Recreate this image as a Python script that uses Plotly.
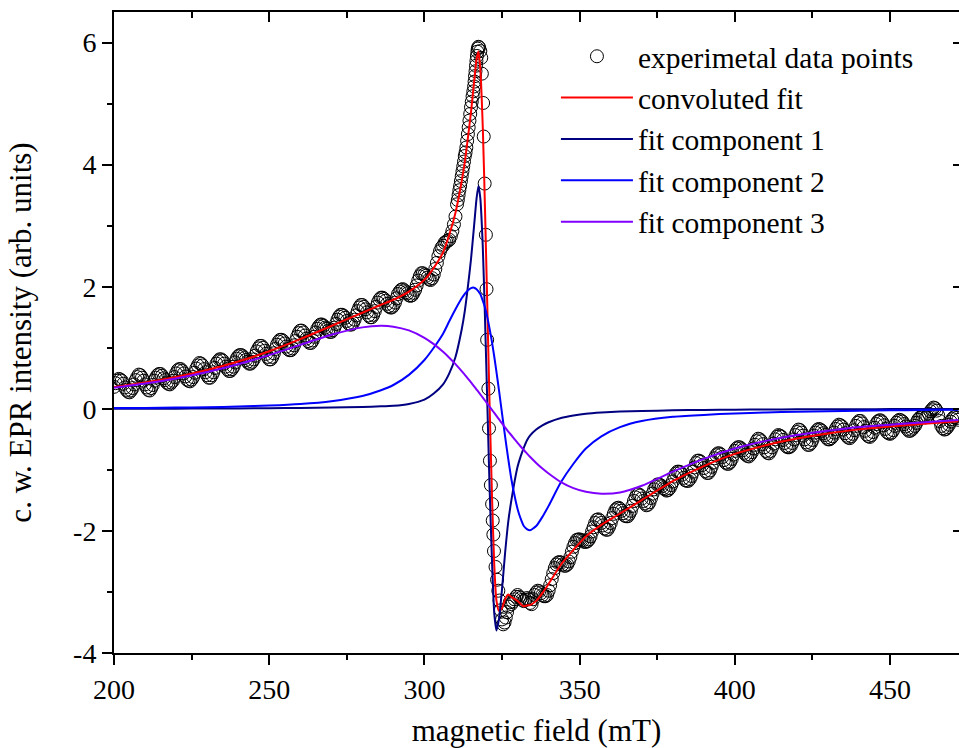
import plotly.graph_objects as go

# ---------------- data ----------------
# experimental data points, low-field tail (mT, intensity)
data_x_low = [
    200, 200.5, 201, 201.5, 202, 202.5, 203, 203.5, 204, 204.5, 205, 205.5, 206,
    206.5, 207, 207.5, 208, 208.5, 209, 209.5, 210, 210.5, 211, 211.5, 212, 212.5,
    213, 213.5, 214, 214.5, 215, 215.5, 216, 216.5, 217, 217.5, 218, 218.5, 219,
    219.5, 220, 220.5, 221, 221.5, 222, 222.5, 223, 223.5, 224, 224.5, 225, 225.5,
    226, 226.5, 227, 227.5, 228, 228.5, 229, 229.5, 230, 230.5, 231, 231.5, 232,
    232.5, 233, 233.5, 234, 234.5, 235, 235.5, 236, 236.5, 237, 237.5, 238, 238.5,
    239, 239.5, 240, 240.5, 241, 241.5, 242, 242.5, 243, 243.5, 244, 244.5, 245,
    245.5, 246, 246.5, 247, 247.5, 248, 248.5, 249, 249.5, 250, 250.5, 251, 251.5,
    252, 252.5, 253, 253.5, 254, 254.5, 255, 255.5, 256, 256.5, 257, 257.5, 258,
    258.5, 259, 259.5, 260, 260.5, 261, 261.5, 262, 262.5, 263, 263.5, 264, 264.5,
    265, 265.5, 266, 266.5, 267, 267.5, 268, 268.5, 269, 269.5, 270, 270.5, 271,
    271.5, 272, 272.5, 273, 273.5, 274, 274.5, 275, 275.5, 276, 276.5, 277, 277.5,
    278, 278.5, 279, 279.5, 280, 280.5, 281, 281.5, 282, 282.5, 283, 283.5, 284,
    284.5, 285, 285.5, 286, 286.5, 287, 287.5, 288, 288.5, 289, 289.5, 290, 290.5,
    291, 291.5, 292, 292.5, 293, 293.5, 294, 294.5, 295, 295.5, 296, 296.5, 297,
    297.5, 298, 298.5, 299, 299.5, 300, 300.5, 301, 301.5, 302, 302.5, 303, 303.5,
    304, 304.5, 305, 305.5, 306, 306.5, 307, 307.5, 308, 308.5, 309, 309.5, 310,
]
data_y_low = [
    0.36, 0.42, 0.46, 0.49, 0.48, 0.46, 0.41, 0.35, 0.31, 0.28, 0.27, 0.30, 0.34,
    0.40, 0.47, 0.52, 0.56, 0.55, 0.51, 0.46, 0.40, 0.35, 0.31, 0.30, 0.34, 0.39,
    0.46, 0.51, 0.55, 0.57, 0.57, 0.54, 0.50, 0.47, 0.43, 0.41, 0.40, 0.43, 0.46,
    0.52, 0.58, 0.63, 0.65, 0.65, 0.62, 0.58, 0.53, 0.48, 0.46, 0.45, 0.48, 0.52,
    0.59, 0.66, 0.71, 0.75, 0.74, 0.71, 0.65, 0.60, 0.55, 0.51, 0.51, 0.55, 0.60,
    0.67, 0.74, 0.78, 0.81, 0.81, 0.79, 0.74, 0.69, 0.65, 0.62, 0.62, 0.65, 0.69,
    0.76, 0.82, 0.86, 0.88, 0.88, 0.86, 0.83, 0.80, 0.77, 0.74, 0.74, 0.77, 0.81,
    0.87, 0.94, 0.99, 1.03, 1.03, 1.00, 0.95, 0.90, 0.85, 0.81, 0.81, 0.85, 0.91,
    0.98, 1.05, 1.10, 1.13, 1.13, 1.11, 1.07, 1.02, 0.98, 0.96, 0.96, 0.99, 1.04,
    1.11, 1.18, 1.24, 1.28, 1.28, 1.25, 1.20, 1.15, 1.11, 1.08, 1.08, 1.12, 1.18,
    1.25, 1.31, 1.35, 1.38, 1.38, 1.36, 1.33, 1.31, 1.28, 1.26, 1.26, 1.29, 1.33,
    1.39, 1.46, 1.51, 1.54, 1.54, 1.52, 1.49, 1.44, 1.40, 1.38, 1.38, 1.41, 1.46,
    1.53, 1.60, 1.66, 1.70, 1.70, 1.67, 1.63, 1.58, 1.53, 1.50, 1.50, 1.54, 1.60,
    1.67, 1.74, 1.79, 1.82, 1.82, 1.80, 1.77, 1.72, 1.68, 1.66, 1.66, 1.69, 1.74,
    1.81, 1.88, 1.92, 1.95, 1.96, 1.94, 1.91, 1.89, 1.86, 1.85, 1.86, 1.90, 1.95,
    2.02, 2.10, 2.17, 2.22, 2.22, 2.20, 2.18, 2.15, 2.12, 2.11, 2.14, 2.20, 2.29,
    2.39, 2.50, 2.58, 2.64, 2.67, 2.72, 2.74, 2.75, 2.77, 2.83, 2.91, 3.02, 3.15,
]
# experimental data points around the resonance
data_x_mid = [
    310.5, 310.75, 311, 311.25, 311.5, 311.75, 312, 312.25, 312.5, 312.75,
    313, 313.25, 313.5, 313.75, 314, 314.25, 314.5, 314.75, 315, 315.25,
    315.5, 315.75, 316, 316.15, 316.3, 316.45, 316.6, 316.75, 316.9, 317.05,
    317.2, 317.4, 317.6, 318.0, 318.3, 318.5, 318.9, 319.1, 319.4, 319.8,
    320.0, 320.2, 320.6, 320.8, 321.1, 321.4, 321.8, 322.0, 322.2, 322.4,
    322.9, 323.4, 323.8, 324.2, 324.6, 325.0, 325.4, 325.8, 326.2, 326.6,
    327.0, 327.5, 328.0, 328.5, 329, 329.5, 330, 330.5, 331, 331.5,
    332, 332.5, 333, 333.5, 334,
]
data_y_mid = [
    3.35, 3.42, 3.50, 3.58, 3.65, 3.73, 3.81, 3.89, 3.97, 4.05,
    4.14, 4.20, 4.28, 4.39, 4.50, 4.61, 4.72, 4.83, 4.94, 5.03,
    5.12, 5.20, 5.28, 5.36, 5.45, 5.53, 5.62, 5.70, 5.78, 5.85,
    5.90, 5.93, 5.92, 5.86, 5.75, 5.49, 5.01, 4.46, 3.69, 2.85,
    1.96, 1.13, 0.33, -0.32, -0.85, -1.25, -1.56, -1.83, -2.06, -2.33,
    -2.59, -2.80, -2.98, -3.14, -3.30, -3.45, -3.53, -3.50, -3.42, -3.33,
    -3.24, -3.17, -3.20, -3.16, -3.12, -3.08, -3.05, -3.08, -3.10, -3.13,
    -3.15, -3.13, -3.10, -3.12, -3.18,
]
# experimental data points, high-field tail
data_x_high = [
    334.5, 335, 335.5, 336, 336.5, 337, 337.5, 338, 338.5, 339, 339.5, 340, 340.5,
    341, 341.5, 342, 342.5, 343, 343.5, 344, 344.5, 345, 345.5, 346, 346.5, 347,
    347.5, 348, 348.5, 349, 349.5, 350, 350.5, 351, 351.5, 352, 352.5, 353, 353.5,
    354, 354.5, 355, 355.5, 356, 356.5, 357, 357.5, 358, 358.5, 359, 359.5, 360,
    360.5, 361, 361.5, 362, 362.5, 363, 363.5, 364, 364.5, 365, 365.5, 366, 366.5,
    367, 367.5, 368, 368.5, 369, 369.5, 370, 370.5, 371, 371.5, 372, 372.5, 373,
    373.5, 374, 374.5, 375, 375.5, 376, 376.5, 377, 377.5, 378, 378.5, 379, 379.5,
    380, 380.5, 381, 381.5, 382, 382.5, 383, 383.5, 384, 384.5, 385, 385.5, 386,
    386.5, 387, 387.5, 388, 388.5, 389, 389.5, 390, 390.5, 391, 391.5, 392, 392.5,
    393, 393.5, 394, 394.5, 395, 395.5, 396, 396.5, 397, 397.5, 398, 398.5, 399,
    399.5, 400, 400.5, 401, 401.5, 402, 402.5, 403, 403.5, 404, 404.5, 405, 405.5,
    406, 406.5, 407, 407.5, 408, 408.5, 409, 409.5, 410, 410.5, 411, 411.5, 412,
    412.5, 413, 413.5, 414, 414.5, 415, 415.5, 416, 416.5, 417, 417.5, 418, 418.5,
    419, 419.5, 420, 420.5, 421, 421.5, 422, 422.5, 423, 423.5, 424, 424.5, 425,
    425.5, 426, 426.5, 427, 427.5, 428, 428.5, 429, 429.5, 430, 430.5, 431, 431.5,
    432, 432.5, 433, 433.5, 434, 434.5, 435, 435.5, 436, 436.5, 437, 437.5, 438,
    438.5, 439, 439.5, 440, 440.5, 441, 441.5, 442, 442.5, 443, 443.5, 444, 444.5,
    445, 445.5, 446, 446.5, 447, 447.5, 448, 448.5, 449, 449.5, 450, 450.5, 451,
    451.5, 452, 452.5, 453, 453.5, 454, 454.5, 455, 455.5, 456, 456.5, 457, 457.5,
    458, 458.5, 459, 459.5, 460, 460.5, 461, 461.5, 462, 462.5, 463, 463.5, 464,
    464.5, 465, 465.5, 466, 466.5, 467, 467.5, 468, 468.5, 469, 469.5, 470, 470.5,
    471, 471.5, 472,
]
data_y_high = [
    -3.20, -3.12, -3.05, -3.01, -2.98, -2.99, -3.02, -3.05, -3.07, -3.07, -3.05, -2.98, -2.89,
    -2.79, -2.69, -2.61, -2.55, -2.52, -2.51, -2.52, -2.55, -2.57, -2.57, -2.55, -2.50, -2.43,
    -2.34, -2.26, -2.20, -2.15, -2.14, -2.14, -2.15, -2.16, -2.18, -2.18, -2.17, -2.14, -2.09,
    -2.01, -1.94, -1.87, -1.82, -1.81, -1.83, -1.87, -1.91, -1.96, -1.98, -1.98, -1.93, -1.87,
    -1.79, -1.72, -1.66, -1.63, -1.62, -1.64, -1.67, -1.71, -1.75, -1.76, -1.76, -1.72, -1.67,
    -1.59, -1.51, -1.45, -1.40, -1.40, -1.42, -1.47, -1.51, -1.55, -1.58, -1.57, -1.53, -1.46,
    -1.39, -1.32, -1.28, -1.24, -1.24, -1.25, -1.27, -1.30, -1.32, -1.34, -1.33, -1.30, -1.25,
    -1.19, -1.11, -1.06, -1.03, -1.03, -1.04, -1.08, -1.13, -1.17, -1.18, -1.18, -1.15, -1.10,
    -1.03, -0.96, -0.89, -0.85, -0.85, -0.87, -0.92, -0.97, -1.02, -1.05, -1.05, -1.01, -0.95,
    -0.88, -0.81, -0.76, -0.73, -0.73, -0.75, -0.79, -0.84, -0.88, -0.90, -0.90, -0.87, -0.82,
    -0.75, -0.69, -0.65, -0.63, -0.63, -0.65, -0.68, -0.72, -0.75, -0.77, -0.78, -0.75, -0.71,
    -0.65, -0.59, -0.53, -0.49, -0.50, -0.53, -0.58, -0.63, -0.69, -0.72, -0.73, -0.69, -0.63,
    -0.57, -0.50, -0.46, -0.43, -0.44, -0.46, -0.51, -0.56, -0.61, -0.63, -0.63, -0.61, -0.56,
    -0.50, -0.43, -0.38, -0.34, -0.35, -0.39, -0.44, -0.50, -0.55, -0.59, -0.59, -0.56, -0.51,
    -0.44, -0.39, -0.35, -0.33, -0.34, -0.36, -0.40, -0.43, -0.47, -0.50, -0.50, -0.48, -0.45,
    -0.39, -0.33, -0.29, -0.26, -0.27, -0.29, -0.34, -0.40, -0.44, -0.47, -0.48, -0.45, -0.41,
    -0.35, -0.28, -0.23, -0.20, -0.20, -0.24, -0.30, -0.36, -0.42, -0.45, -0.46, -0.43, -0.38,
    -0.31, -0.25, -0.21, -0.19, -0.19, -0.22, -0.27, -0.33, -0.38, -0.40, -0.41, -0.39, -0.35,
    -0.28, -0.23, -0.20, -0.18, -0.19, -0.21, -0.25, -0.29, -0.33, -0.36, -0.36, -0.34, -0.31,
    -0.28, -0.23, -0.18, -0.15, -0.13, -0.12, -0.12, -0.14, -0.12, -0.08, -0.04, -0.01, 0.02,
    0.01, -0.03, -0.11, -0.20, -0.28, -0.32, -0.34, -0.33, -0.30, -0.26, -0.21, -0.17, -0.14,
    -0.13, -0.15, -0.18,
]

# field grid of the fitted curves
fit_x = [
    200, 210, 220, 230, 240, 250, 260, 270, 280, 286,
    290, 295, 300, 303, 306, 308, 310, 312, 313, 314,
    315, 316, 316.8, 317.4, 318, 318.8, 319.5, 320.3, 321, 321.8,
    322.5, 323.2, 324, 325, 326, 327, 328, 329, 330, 331,
    332, 333, 334, 336, 338, 340, 344, 348, 352, 357,
    363, 370, 380, 390, 400, 410, 420, 430, 440, 450,
    460, 472,
]
convoluted_fit = [
    0.356, 0.43, 0.521, 0.635, 0.775, 0.943, 1.141, 1.357, 1.574, 1.704,
    1.786, 1.92, 2.113, 2.309, 2.563, 2.851, 3.211, 3.727, 4.041, 4.436,
    4.861, 5.353, 5.726, 5.852, 5.567, 4.603, 3.296, 1.572, 0.044, -1.49,
    -2.565, -3.14, -3.31, -3.265, -3.115, -3.042, -3.083, -3.113, -3.147, -3.197,
    -3.235, -3.221, -3.215, -3.146, -3.018, -2.869, -2.55, -2.31, -2.09, -1.90,
    -1.715, -1.495, -1.185, -0.938, -0.739, -0.596, -0.487, -0.405, -0.337, -0.29,
    -0.249, -0.204,
]
component_1 = [
    0.0, 0.002, 0.003, 0.005, 0.007, 0.01, 0.015, 0.02, 0.03, 0.04,
    0.05, 0.08, 0.15, 0.25, 0.40, 0.58, 0.85, 1.3, 1.6, 2.0,
    2.45, 3.0, 3.45, 3.65, 3.45, 2.65, 1.5, 0.0, -1.3, -2.55,
    -3.35, -3.63, -3.45, -2.95, -2.35, -1.85, -1.5, -1.2, -0.95, -0.78,
    -0.64, -0.52, -0.44, -0.34, -0.27, -0.22, -0.15, -0.11, -0.08, -0.06,
    -0.045, -0.035, -0.025, -0.018, -0.014, -0.011, -0.009, -0.007, -0.006, -0.005,
    -0.004, -0.003,
]
component_2 = [
    0.012, 0.015, 0.020, 0.027, 0.037, 0.053, 0.079, 0.125, 0.21, 0.304,
    0.39, 0.556, 0.80, 1.00, 1.23, 1.434, 1.63, 1.81, 1.884, 1.94,
    1.978, 1.984, 1.96, 1.925, 1.88, 1.77, 1.66, 1.49, 1.31, 1.08,
    0.853, 0.606, 0.31, -0.077, -0.459, -0.819, -1.15, -1.417, -1.64, -1.80,
    -1.92, -1.97, -1.99, -1.92, -1.77, -1.59, -1.20, -0.90, -0.65, -0.45,
    -0.30, -0.20, -0.13, -0.10, -0.075, -0.06, -0.048, -0.038, -0.031, -0.025,
    -0.02, -0.016,
]
component_3 = [
    0.344, 0.413, 0.498, 0.603, 0.731, 0.880, 1.047, 1.212, 1.334, 1.36,
    1.346, 1.284, 1.163, 1.059, 0.933, 0.837, 0.731, 0.617, 0.557, 0.496,
    0.433, 0.369, 0.316, 0.277, 0.237, 0.183, 0.136, 0.082, 0.034, -0.02,
    -0.068, -0.116, -0.17, -0.238, -0.306, -0.373, -0.433, -0.496, -0.557, -0.617,
    -0.675, -0.731, -0.785, -0.886, -0.978, -1.059, -1.20, -1.30, -1.36, -1.39,
    -1.37, -1.26, -1.03, -0.82, -0.65, -0.525, -0.43, -0.36, -0.30, -0.26,
    -0.225, -0.185,
]

y_tick_values = [-4, -2, 0, 2, 4, 6]
y_tick_labels = ["-4", "-2", "0", "2", "4", "6"]
x_range = [200, 472.2]
y_range = [-4, 6.5]

assert len(data_x_low) == len(data_y_low)
assert len(data_x_mid) == len(data_y_mid)
assert len(data_x_high) == len(data_y_high)
for series in (convoluted_fit, component_1, component_2, component_3):
    assert len(series) == len(fit_x)

data_x = data_x_low + data_x_mid + data_x_high
data_y = data_y_low + data_y_mid + data_y_high

FONT = "Liberation Serif"

# ---------------- figure ----------------
fig = go.Figure()
fig.add_trace(go.Scatter(
    x=data_x, y=data_y, mode="markers", name="experimetal data points",
    marker=dict(symbol="circle-open", size=13, color="black", line=dict(width=1)),
))
line_style = dict(width=2, shape="spline", smoothing=0.6)
fig.add_trace(go.Scatter(x=fit_x, y=convoluted_fit, mode="lines",
                         name="convoluted fit", line=dict(color="#FF0000", **line_style)))
fig.add_trace(go.Scatter(x=fit_x, y=component_1, mode="lines",
                         name="fit component 1", line=dict(color="#000080", **line_style)))
fig.add_trace(go.Scatter(x=fit_x, y=component_2, mode="lines",
                         name="fit component 2", line=dict(color="#0000FF", **line_style)))
fig.add_trace(go.Scatter(x=fit_x, y=component_3, mode="lines",
                         name="fit component 3", line=dict(color="#8000FF", **line_style)))
# empty trace that carries the mirrored (top / right) frame axes
fig.add_trace(go.Scatter(x=[None], y=[None], xaxis="x2", yaxis="y2",
                         showlegend=False, hoverinfo="skip"))

axis_common = dict(showgrid=False, zeroline=False, linecolor="black",
                   tickcolor="black")

fig.update_layout(
    width=959, height=748,
    margin=dict(l=114, r=0, t=12, b=95),
    paper_bgcolor="white", plot_bgcolor="white",
    font=dict(family=FONT, size=28, color="black"),
    showlegend=True,
    legend=dict(x=0.523, y=0.971, xanchor="left", yanchor="top",
                bgcolor="rgba(0,0,0,0)", font=dict(family=FONT, size=29.5),
                itemwidth=72, tracegroupgap=0),
    xaxis=dict(
        **axis_common, range=x_range, showline=True, linewidth=2,
        ticks="outside", ticklen=10, tickwidth=2, dtick=50, tick0=200,
        minor=dict(ticks="outside", ticklen=5, tickwidth=2, dtick=25, tick0=200,
                   tickcolor="black", showgrid=False),
        tickfont=dict(family=FONT, size=28),
        title=dict(text="magnetic field (mT)", font=dict(family=FONT, size=31),
                   standoff=23),
    ),
    yaxis=dict(
        **axis_common, range=y_range, showline=True, linewidth=2,
        ticks="outside", ticklen=10, tickwidth=2,
        tickmode="array", tickvals=y_tick_values, ticktext=y_tick_labels,
        minor=dict(ticks="outside", ticklen=5, tickwidth=2, dtick=1, tick0=-4,
                   tickcolor="black", showgrid=False),
        tickfont=dict(family=FONT, size=28),
        title=dict(text="c. w. EPR intensity (arb. units)",
                   font=dict(family=FONT, size=31), standoff=32),
    ),
    xaxis2=dict(
        **axis_common, range=x_range, overlaying="x", side="top", anchor="y2",
        showline=True, linewidth=2, ticks="inside", ticklen=10, tickwidth=2,
        dtick=50, tick0=200, showticklabels=False,
        minor=dict(ticks="inside", ticklen=6, tickwidth=2, dtick=25, tick0=200,
                   tickcolor="black", showgrid=False),
    ),
    yaxis2=dict(
        **axis_common, range=y_range, overlaying="y", side="right", anchor="x2",
        showline=False, ticks="inside", ticklen=6, tickwidth=2,
        tickmode="array", tickvals=y_tick_values, showticklabels=False,
    ),
)

fig.write_html("out.html")
